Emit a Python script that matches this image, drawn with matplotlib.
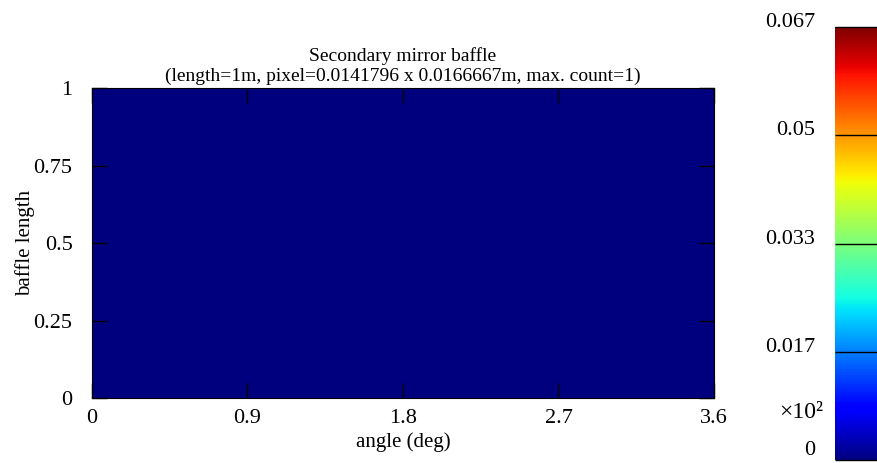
import numpy as np
import matplotlib
matplotlib.use("Agg")
import matplotlib.pyplot as plt

plt.rcParams['font.family'] = ['Liberation Serif', 'DejaVu Serif']

# histogram of hits on the baffle: 60 rows (length) x 254 cols (angle), all empty
n_rows, n_cols = 60, 254
counts = np.zeros((n_rows, n_cols))
angle_max = 3.6
length_max = 1.0

x_ticks = [0, 0.9, 1.8, 2.7, 3.6]
x_labels = ["0", "0.9", "1.8", "2.7", "3.6"]
y_ticks = [0, 0.25, 0.5, 0.75, 1]
y_labels = ["0", "0.25", "0.5", "0.75", "1"]
cb_ticks = [0, 1/60, 2/60, 3/60, 4/60]
cb_labels = ["0", "0.017", "0.033", "0.05", "0.067"]

title = "Secondary mirror baffle\n(length=1m, pixel=0.0141796 x 0.0166667m, max. count=1)"

fig = plt.figure(figsize=(8.77, 4.63), dpi=100)
ax = fig.add_axes([0.1049, 0.1404, 0.7092, 0.6695])
cax = fig.add_axes([0.952, 0.0065, 0.06, 0.935])

im = ax.imshow(counts, origin='lower', aspect='auto', cmap='jet',
               vmin=cb_ticks[0], vmax=cb_ticks[-1],
               extent=[0, angle_max, 0, length_max], interpolation='nearest')

ax.set_xticks(x_ticks)
ax.set_xticklabels(x_labels)
ax.set_yticks(y_ticks)
ax.set_yticklabels(y_labels)
ax.tick_params(direction='in', length=11, width=1, labelsize=16, color='black',
               top=True, right=True)
ax.tick_params(axis='x', pad=8)
ax.tick_params(axis='y', pad=14)
ax.set_xlabel("angle (deg)", fontsize=15, labelpad=3)
ax.set_ylabel("baffle length", fontsize=15, labelpad=-1)
ax.set_title(title, fontsize=14, pad=5, linespacing=1.2)
for s in ax.spines.values():
    s.set_linewidth(0.8)

cb = fig.colorbar(im, cax=cax)
cb.outline.set_visible(False)
cax.yaxis.set_ticks_position('left')
cax.set_yticks(cb_ticks)
cax.set_yticklabels(cb_labels)
cax.tick_params(axis='y', direction='in', length=45, width=1, labelsize=16,
                pad=14, left=True, right=False, labelleft=True, labelright=False)
labs = cax.get_yticklabels()
for lab in labs:
    lab.set_verticalalignment('baseline')
labs[0].set_verticalalignment('bottom')

fig.text(0.938, 0.108, "\u00d710\u00b2", fontsize=17, ha='right', va='center')

fig.savefig("out.png", dpi=100)
